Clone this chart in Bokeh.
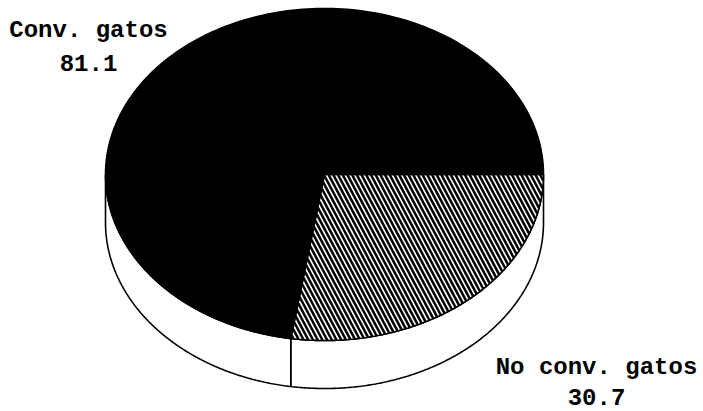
import numpy as np
from bokeh.plotting import figure
from bokeh.models import Range1d
from bokeh.core.properties import value
from bokeh.embed import file_html
from bokeh.resources import INLINE

# ---- data ----
labels = ["No conv. gatos", "Conv. gatos"]
values = [30.7, 81.1]
value_texts = ["30.7", "81.1"]

# ---- layout / style (pixel units, y grows downward) ----
W, H = 703, 411
CX, CY = 324, 174      # ellipse centre
RX, RY = 219, 166      # ellipse radii
DEPTH = 48             # thickness of the pie
LW = 1.6
HATCH_PERIOD = 4.7     # horizontal spacing of hatch lines
HATCH_ANGLE = 62.0     # degrees from horizontal
HATCH_W = 2.5

p = figure(width=W, height=H, output_backend="svg", toolbar_location=None,
           x_range=Range1d(0, W), y_range=Range1d(H, 0),
           min_border=0, outline_line_color=None)
p.axis.visible = False
p.grid.visible = False
p.background_fill_color = "white"
p.border_fill_color = "white"

total = sum(values)
sweeps = [v / total * 360.0 for v in values]
starts = np.cumsum([0.0] + sweeps[:-1])


def arc(a0, a1, dy=0.0, n=200):
    t = np.radians(np.linspace(a0, a1, n))
    return CX + RX * np.cos(t), CY + dy + RY * np.sin(t)


def inside(x, y, a0, a1):
    u = (x - CX) / RX
    v = (y - CY) / RY
    ang = np.degrees(np.arctan2(v, u)) % 360.0
    return (u * u + v * v <= 1.0) & (ang >= a0) & (ang <= a1)


def hatch_lines(a0, a1):
    k = 1.0 / np.tan(np.radians(HATCH_ANGLE))
    ys = np.linspace(CY - RY, CY + RY, 1200)
    xs_out, ys_out = [], []
    for x0 in np.arange(CX - RX - 2 * RY * k, CX + RX + 2 * RY * k, HATCH_PERIOD):
        xs = x0 + (ys - CY) * k
        m = inside(xs, ys, a0, a1)
        if m.sum() < 2:
            continue
        idx = np.where(m)[0]
        i0, i1 = idx[0], idx[-1]
        xs_out.append([xs[i0], xs[i1]])
        ys_out.append([ys[i0], ys[i1]])
    return xs_out, ys_out


# side (front half: angles 0..180 in y-down space)
for s, w in zip(starts, sweeps):
    a0, a1 = max(s, 0.0), min(s + w, 180.0)
    if a1 <= a0:
        continue
    tx, ty = arc(a0, a1)
    bx, by = arc(a1, a0, DEPTH)
    p.patch(np.concatenate([tx, bx]), np.concatenate([ty, by]),
            fill_color="white", line_color="black", line_width=LW)

# top slices
fills = ["white", "black"]
hatched = [True, False]
for s, w, fc, h in zip(starts, sweeps, fills, hatched):
    tx, ty = arc(s, s + w)
    xs = np.concatenate([[CX], tx])
    ys = np.concatenate([[CY], ty])
    p.patch(xs, ys, fill_color=fc, line_color="black", line_width=LW)
    if h:
        hx, hy = hatch_lines(s, s + w)
        p.multi_line(hx, hy, line_color="black", line_width=HATCH_W)

# labels
label_pos = [(596, 367, 396), (88, 30, 62)]
for lab, vt, (lx, ly1, ly2) in zip(labels, value_texts, label_pos):
    p.text(x=[lx, lx], y=[ly1, ly2], text=[lab, vt],
           text_font=value("Liberation Mono"), text_font_style="bold",
           text_font_size="24px", text_align="center",
           text_baseline="alphabetic", text_color="black")

open("out.html", "w").write(file_html(p, INLINE))
